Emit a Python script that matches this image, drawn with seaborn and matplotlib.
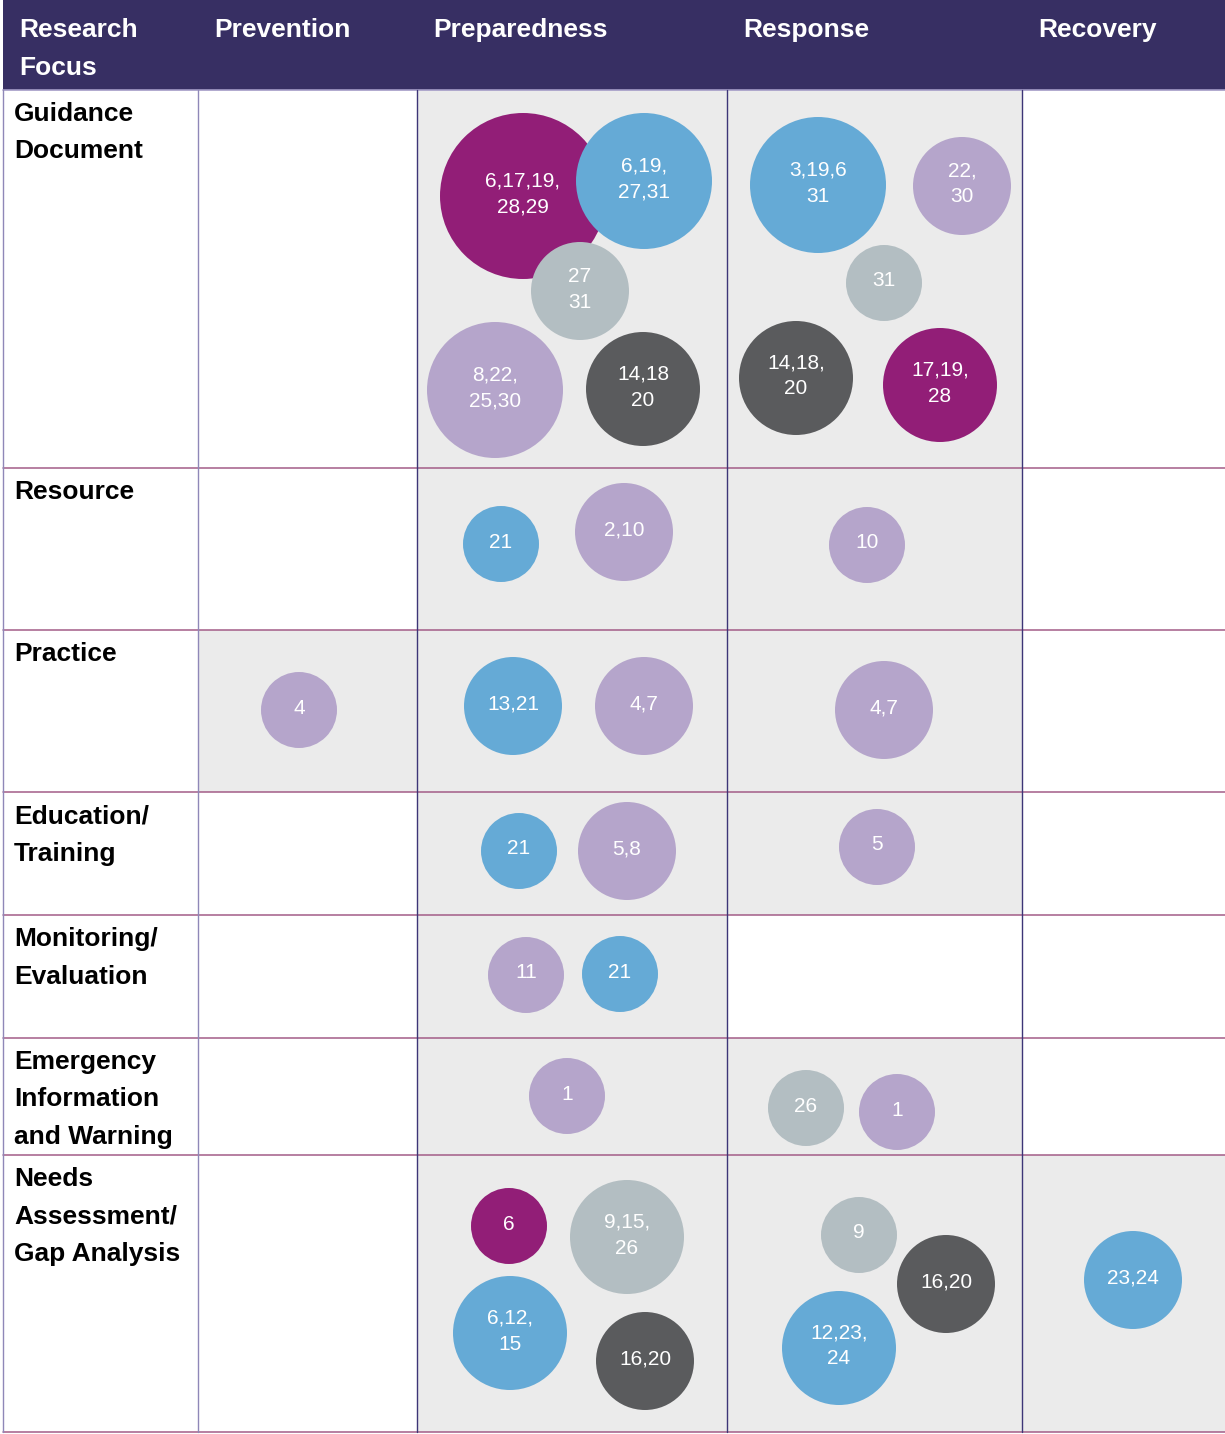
import numpy as np
import pandas as pd
import matplotlib
matplotlib.use("Agg")
import matplotlib.pyplot as plt
from matplotlib.patches import Rectangle
import seaborn as sns

# ---------------- data ----------------
header_label = ["Research", "Focus"]
columns = ["Prevention", "Preparedness", "Response", "Recovery"]
rows = [
    ["Guidance", "Document"],
    ["Resource"],
    ["Practice"],
    ["Education/", "Training"],
    ["Monitoring/", "Evaluation"],
    ["Emergency", "Information", "and Warning"],
    ["Needs", "Assessment/", "Gap Analysis"],
]

# bubble contents (reference numbers), their cell and their study type
bubble_labels = [
    "6,17,19,\n28,29", "6,19,\n27,31", "27\n31", "8,22,\n25,30", "14,18\n20",
    "3,19,6\n31", "22,\n30", "31", "14,18,\n20", "17,19,\n28",
    "21", "2,10", "10",
    "4", "13,21", "4,7", "4,7",
    "21", "5,8", "5",
    "11", "21",
    "1", "26", "1",
    "6", "9,15,\n26", "6,12,\n15", "16,20", "9", "16,20", "12,23,\n24", "23,24",
]
bubble_row = [0, 0, 0, 0, 0, 0, 0, 0, 0, 0,
              1, 1, 1,
              2, 2, 2, 2,
              3, 3, 3,
              4, 4,
              5, 5, 5,
              6, 6, 6, 6, 6, 6, 6, 6]
bubble_col = [1, 1, 1, 1, 1, 2, 2, 2, 2, 2,
              1, 1, 2,
              0, 1, 1, 2,
              1, 1, 2,
              1, 1,
              1, 2, 2,
              1, 1, 1, 1, 2, 2, 2, 3]
bubble_type = ["A", "B", "C", "D", "E", "B", "D", "C", "E", "A",
               "B", "D", "D",
               "D", "B", "D", "D",
               "B", "D", "D",
               "D", "B",
               "D", "C", "D",
               "A", "C", "B", "E", "C", "E", "B", "B"]

# ---------------- layout / style ----------------
W, H = 1225, 1434
col_edges = [3, 198, 417, 727, 1022, 1225]
row_edges = [90, 468, 630, 792, 915, 1038, 1155, 1432]
# bubble centre offsets (px) from the top-left corner of their cell
bubble_dx = [106, 227, 163, 78, 226, 91, 235, 157, 69, 213,
             84, 207, 140,
             101, 96, 227, 157,
             102, 210, 150,
             109, 203,
             150, 79, 170,
             92, 210, 93, 228, 132, 219, 112, 111]
bubble_dy = [106, 91, 201, 300, 299, 95, 96, 193, 288, 295,
             76, 64, 77,
             80, 76, 76, 80,
             59, 59, 55,
             60, 59,
             58, 70, 74,
             71, 82, 178, 206, 80, 129, 193, 125]
radius_px = {1: 38, 2: 49, 3: 57, 4: 68, 5: 83}
palette = {"A": "#921e77", "B": "#65aad6", "C": "#b3bec2",
           "D": "#b5a5cb", "E": "#5a5b5d"}
header_bg = "#372f63"
cell_bg = "#ebebeb"

sns.set_style("white")
plt.rcParams["font.family"] = ["Liberation Sans", "DejaVu Sans"]

n_refs = [len([t for t in lab.replace("\n", ",").replace(" ", ",").split(",") if t])
          for lab in bubble_labels]
df = pd.DataFrame({
    "label": bubble_labels,
    "row": bubble_row,
    "col": bubble_col,
    "type": bubble_type,
    "n": n_refs,
})
df["x"] = [col_edges[c + 1] + dx for c, dx in zip(df["col"], bubble_dx)]
df["y"] = [row_edges[r] + dy for r, dy in zip(df["row"], bubble_dy)]

px2pt = 72 / 100
size_map = {k: (2 * r * px2pt) ** 2 for k, r in radius_px.items()}

fig = plt.figure(figsize=(W / 100, H / 100), dpi=100)
ax = fig.add_axes([0, 0, 1, 1])
ax.set_xlim(0, W)
ax.set_ylim(H, 0)
ax.axis("off")

# header band
ax.add_patch(Rectangle((col_edges[0], 0), W - col_edges[0], row_edges[0],
                       facecolor=header_bg, edgecolor="none", zorder=0))

# shaded cells (cells that contain studies)
for r, c in sorted(set(zip(df["row"], df["col"]))):
    c_idx = c + 1
    ax.add_patch(Rectangle((col_edges[c_idx], row_edges[r]),
                           col_edges[c_idx + 1] - col_edges[c_idx],
                           row_edges[r + 1] - row_edges[r],
                           facecolor=cell_bg, edgecolor="none", zorder=0))

# grid lines
ax.plot([col_edges[0], W], [row_edges[0], row_edges[0]], color="#a39bc6", lw=1.2, zorder=1)
for y in row_edges[1:]:
    ax.plot([col_edges[0], W], [y, y], color="#a35c87", lw=1.1, zorder=1)
for i, x in enumerate(col_edges[:-1]):
    colr = "#8f88b8" if i < 2 else "#3d3577"
    ax.plot([x, x], [row_edges[0], row_edges[-1]], color=colr, lw=1.0, zorder=1)

# bubbles
sns.scatterplot(data=df, x="x", y="y", hue="type", palette=palette,
                size="n", sizes=size_map, legend=False, linewidth=0,
                edgecolor="none", alpha=1, zorder=3, ax=ax)
ax.set_xlim(0, W)
ax.set_ylim(H, 0)
ax.axis("off")

# bubble labels
for _, b in df.iterrows():
    lines = b["label"].split("\n")
    n = len(lines)
    for i, ln in enumerate(lines):
        yc = b["y"] - 4 + (i - (n - 1) / 2) * 26
        ax.text(b["x"], yc + 7.5, ln, ha="center", va="baseline",
                fontsize=15, color="white", zorder=4)

# header text
for i, ln in enumerate(header_label):
    ax.text(col_edges[0] + 16, 37 + 38 * i, ln, ha="left", va="baseline",
            fontsize=19, fontweight="bold", color="white", zorder=4)
for j, name in enumerate(columns):
    ax.text(col_edges[j + 1] + 16, 37, name, ha="left", va="baseline",
            fontsize=19, fontweight="bold", color="white", zorder=4)

# row labels
for r, lines in enumerate(rows):
    for i, ln in enumerate(lines):
        ax.text(col_edges[0] + 11, row_edges[r] + 31 + 37.5 * i, ln,
                ha="left", va="baseline", fontsize=19, fontweight="bold",
                color="black", zorder=4)

fig.savefig("out.png", dpi=100)
